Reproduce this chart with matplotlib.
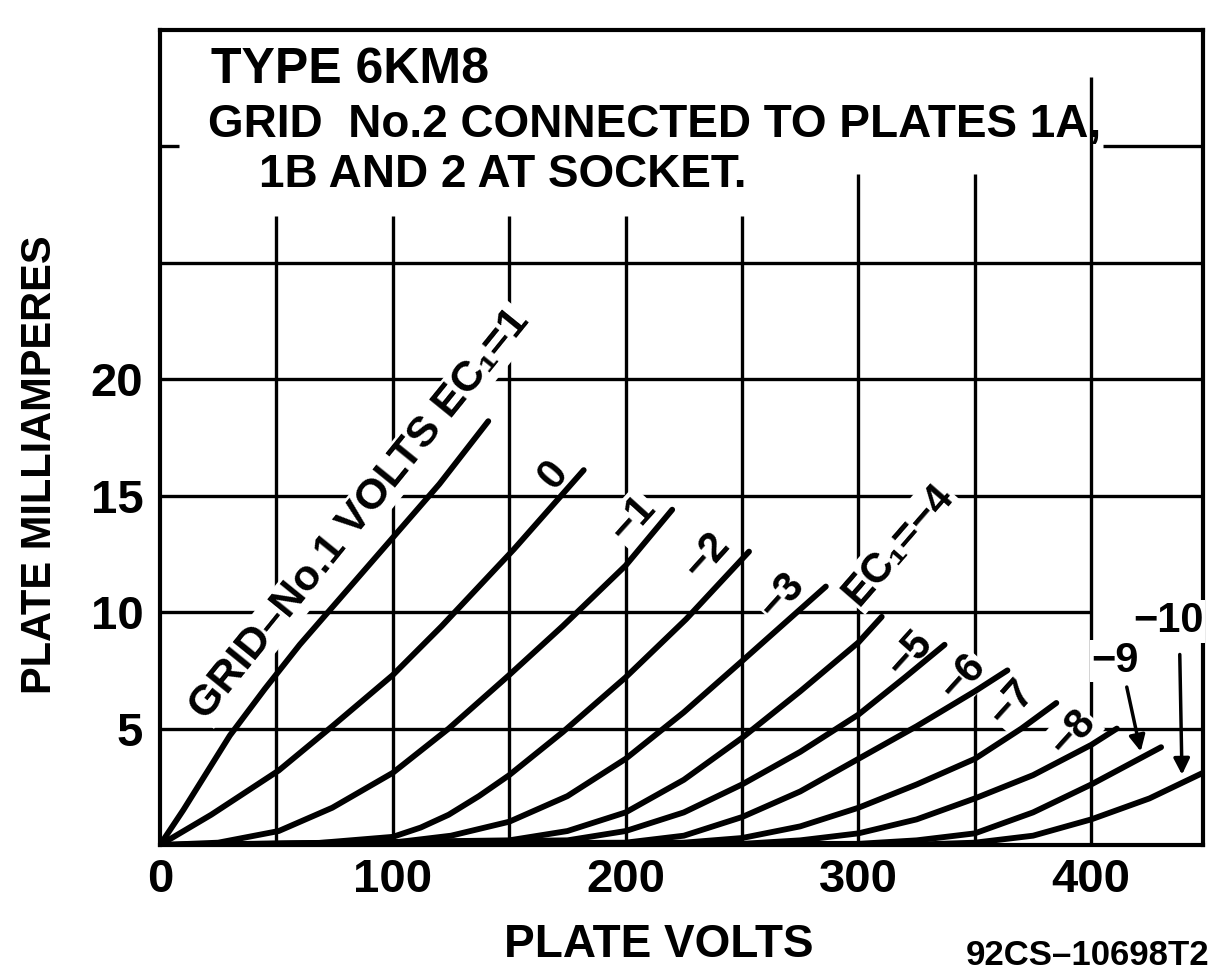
# 6KM8 plate characteristics (triode connection)
import matplotlib
matplotlib.use("Agg")
import matplotlib.pyplot as plt

# plate volts / plate mA
v_p1 = [0, 10, 20, 30, 45, 60, 80, 100, 120, 141]
ma_p1 = [0, 1.5, 3.1, 4.7, 6.7, 8.6, 10.9, 13.2, 15.5, 18.2]
v_0 = [0, 22, 51, 74, 100, 121, 152, 182]
ma_0 = [0, 1.3, 3.2, 5.1, 7.3, 9.4, 12.7, 16.1]
v_m1 = [0, 25, 51, 74, 100, 124, 150, 173, 200, 220]
ma_m1 = [0, 0.1, 0.6, 1.6, 3.1, 5.0, 7.3, 9.4, 12.0, 14.4]
v_m2 = [0, 60, 100, 112, 124, 137, 150, 173, 200, 226, 253]
ma_m2 = [0, 0.02, 0.35, 0.75, 1.3, 2.1, 3.0, 4.85, 7.2, 9.7, 12.6]
v_m3 = [0, 100, 125, 150, 175, 200, 225, 250, 286]
ma_m3 = [0, 0.1, 0.4, 1.0, 2.1, 3.7, 5.7, 7.9, 11.1]
v_m4 = [0, 150, 175, 200, 225, 250, 275, 300, 310]
ma_m4 = [0, 0.2, 0.6, 1.4, 2.8, 4.6, 6.6, 8.7, 9.8]
v_m5 = [0, 175, 200, 225, 250, 275, 300, 320, 337]
ma_m5 = [0, 0.2, 0.6, 1.4, 2.6, 4.0, 5.6, 7.2, 8.6]
v_m6 = [0, 200, 225, 250, 275, 300, 325, 350, 364]
ma_m6 = [0, 0.1, 0.4, 1.2, 2.3, 3.7, 5.1, 6.6, 7.5]
v_m7 = [0, 225, 250, 275, 300, 325, 350, 370, 385]
ma_m7 = [0, 0.1, 0.3, 0.8, 1.6, 2.6, 3.7, 5.0, 6.1]
v_m8 = [0, 250, 275, 300, 325, 350, 375, 400, 411]
ma_m8 = [0, 0.05, 0.2, 0.5, 1.1, 2.0, 3.0, 4.3, 5.0]
v_m9 = [0, 300, 325, 350, 375, 400, 430]
ma_m9 = [0, 0.05, 0.2, 0.5, 1.4, 2.6, 4.2]
v_m10 = [0, 325, 350, 375, 400, 425, 448]
ma_m10 = [0, 0.02, 0.1, 0.4, 1.1, 2.0, 3.1]

curves = [(v_p1, ma_p1), (v_0, ma_0), (v_m1, ma_m1), (v_m2, ma_m2),
          (v_m3, ma_m3), (v_m4, ma_m4), (v_m5, ma_m5), (v_m6, ma_m6),
          (v_m7, ma_m7), (v_m8, ma_m8), (v_m9, ma_m9), (v_m10, ma_m10)]

# curve labels: text, volts, mA, rotation
lab_text = ["GRID\u2013No.1 VOLTS EC\u2081=1", "0", "\u22121", "\u22122", "\u22123",
            "EC\u2081=\u22124", "\u22125", "\u22126", "\u22127", "\u22128", "\u22129", "\u221210"]
lab_v = [86, 169, 203, 235, 267, 317, 322, 345, 366, 392, 410, 433]
lab_ma = [14.2, 15.9, 14.0, 12.4, 10.7, 12.9, 8.2, 7.2, 6.1, 4.8, 7.9, 9.6]
lab_rot = [51, 50, 48, 48, 48, 49, 48, 48, 48, 48, 0, 0]

xticks = [0, 100, 200, 300, 400]
yticks = [5, 10, 15, 20]

fam = ["Liberation Sans Narrow", "Liberation Sans", "DejaVu Sans"]
plt.rcParams["font.family"] = fam
plt.rcParams["font.weight"] = "bold"

fig = plt.figure(figsize=(12.15, 9.75), dpi=100)
ax = fig.add_axes([160/1215, 1-845/975, 1043/1215, 815/975])
ax.set_xlim(0, 448)
ax.set_ylim(0, 35)

# grid, cut short where the heading sits
glw = 2.4
ax.vlines([50, 100, 150, 200, 250], 0, 27.0, color="black", lw=glw, zorder=1)
ax.vlines([300, 350], 0, 28.8, color="black", lw=glw, zorder=1)
ax.vlines([400], 0, 33.0, color="black", lw=glw, zorder=1)
ax.hlines([5, 15, 20, 25], 0, 448, color="black", lw=glw, zorder=1)
ax.hlines([10], 0, 400, color="black", lw=glw, zorder=1)
ax.hlines([30], 405, 448, color="black", lw=glw, zorder=1)
ax.hlines([30], 0, 8, color="black", lw=glw, zorder=1)

for v, ma in curves:
    ax.plot(v, ma, color="black", lw=4.2, solid_capstyle="round",
            solid_joinstyle="round", zorder=4)

for t, x, y, r in zip(lab_text, lab_v, lab_ma, lab_rot):
    fs = 31 if t.startswith("GRID") else 30
    ax.text(x, y, t, rotation=r, ha="center", va="center", fontsize=fs,
            fontweight="bold", rotation_mode="anchor", zorder=3,
            bbox=dict(facecolor="white", edgecolor="none", pad=1))

# arrows to the -9 and -10 curves
arr = dict(arrowstyle="-|>", lw=2.5, color="black", mutation_scale=24)
ax.annotate("", xy=(421.5, 3.9), xytext=(415, 6.9), arrowprops=arr, zorder=5)
ax.annotate("", xy=(439, 2.9), xytext=(438, 8.3), arrowprops=arr, zorder=5)

for s in ax.spines.values():
    s.set_linewidth(3)
ax.set_xticks(xticks)
ax.set_xticklabels([str(x) for x in xticks])
ax.set_yticks(yticks)
ax.set_yticklabels([str(y) for y in yticks])
ax.tick_params(length=0, labelsize=34, pad=9)
ax.tick_params(axis="y", pad=12)

fig.text(211/1215, 1-83/975, "TYPE 6KM8", ha="left", va="baseline",
         fontsize=36, fontweight="bold")
fig.text(208/1215, 1-137/975, "GRID  No.2 CONNECTED TO PLATES 1A,",
         ha="left", va="baseline", fontsize=33, fontweight="bold")
fig.text(259/1215, 1-187/975, "1B AND 2 AT SOCKET.", ha="left",
         va="baseline", fontsize=33, fontweight="bold")

fig.text(40/1215, 1-465/975, "PLATE MILLIAMPERES", rotation=90,
         ha="center", va="center", fontsize=30, fontweight="bold")
fig.text(659/1215, 1-957/975, "PLATE VOLTS", ha="center", va="baseline",
         fontsize=33, fontweight="bold")
fig.text(1209/1215, 1-965/975, "92CS\u201310698T2", ha="right",
         va="baseline", fontsize=25, fontweight="bold")

fig.savefig("out.png", dpi=100, facecolor="white")
